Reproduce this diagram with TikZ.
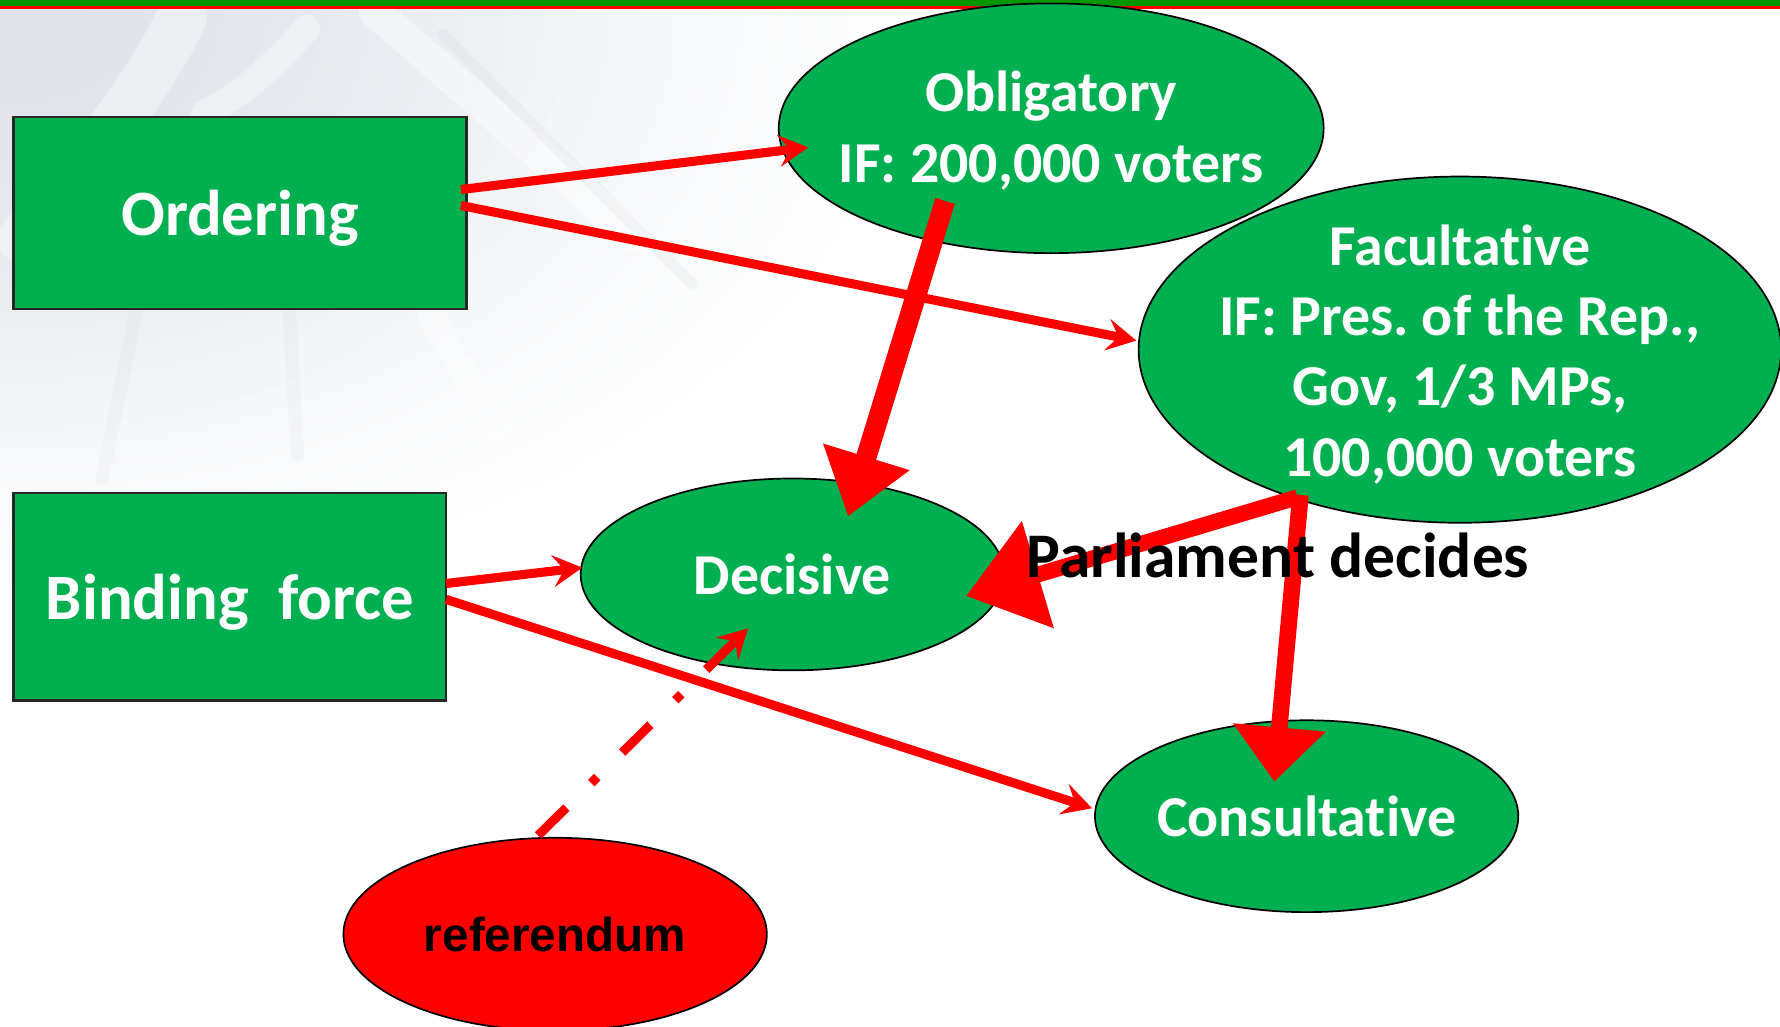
\documentclass[tikz,border=0pt]{standalone}
\usepackage{fontspec}
\setmainfont{Carlito}[Ligatures={NoCommon}]
\newfontfamily\arialfont{Liberation Sans}
\usetikzlibrary{arrows.meta,shapes.geometric,calc,fadings}
\definecolor{boxgreen}{RGB}{0,176,80}
\definecolor{bargreen}{RGB}{0,150,0}
\definecolor{pptred}{RGB}{255,0,0}
\definecolor{bggray}{RGB}{224,228,234}
\tikzfading[name=bgfade, inner color=transparent!0, outer color=transparent!100]
\frenchspacing
\begin{document}
\begin{tikzpicture}[x=0.5pt,y=-0.5pt,
  box/.style={draw=black!85, line width=1pt, fill=boxgreen, rectangle, inner sep=0pt},
  oval/.style={draw=black, line width=0.75pt, fill=boxgreen, ellipse, inner sep=0pt},
  redoval/.style={draw=black, line width=0.75pt, fill=pptred, ellipse, inner sep=0pt},
  boxtext/.style={text=white, font=\fontsize{28.5}{34}\selectfont\bfseries, align=center, inner sep=0pt},
  ovaltext/.style={text=white, font=\fontsize{25.5}{31}\selectfont\bfseries, align=center, inner sep=0pt},
  thinarrow/.style={draw=pptred, line width=4pt, -{Stealth[length=13pt,width=14pt,inset=5pt]}},
  dashdotarrow/.style={draw=pptred, line width=4pt, dash pattern=on 17.5pt off 15.4pt on 3.7pt off 15.4pt, -{Stealth[length=13pt,width=14pt,inset=5pt]}},
  streak/.style={line cap=round}
]
\useasboundingbox (0,0) rectangle (1568,904);
\clip (0,0) rectangle (1568,904);
% background
\fill[white] (0,0) rectangle (1568,904);
\fill[bggray, path fading=bgfade] (0,8) ellipse [x radius=800, y radius=520];
\fill[bggray, path fading=bgfade, opacity=0.7] (0,8) ellipse [x radius=500, y radius=380];
\draw[streak, white, line width=14pt, opacity=0.4] (330,10) -- (560,210);
\draw[streak, bggray!60!gray, line width=5pt, opacity=0.10] (390,30) -- (610,250);
\draw[streak, white, line width=22pt, opacity=0.35] (160,15) .. controls (130,80) and (70,150) .. (20,210);
\draw[streak, white, line width=12pt, opacity=0.35] (270,25) .. controls (240,60) and (210,85) .. (180,100);
\draw[streak, bggray!60!gray, line width=6pt, opacity=0.08] (120,275) -- (90,420);
\draw[streak, bggray!60!gray, line width=6pt, opacity=0.08] (255,275) -- (262,400);
\draw[streak, white, line width=12pt, opacity=0.35] (380,280) -- (440,380);
% top bar
\fill[bargreen] (0,0) rectangle (1568,5.5);
\fill[pptred] (0,5.5) rectangle (1568,7.5);
% nodes
\node[box, minimum width=199.5pt, minimum height=84.5pt] (ord) at (211.5,187.5) {};
\node[boxtext] (ordT) at ($(ord.center)+(0,5)$) {Ordering};
\node[box, minimum width=190.5pt, minimum height=91.5pt] (bind) at (202.5,525.5) {};
\node[boxtext] (bindT) at ($(bind.center)+(0,5)$) {Binding~~force};
\node[oval, minimum width=240pt, minimum height=110pt] (obl) at (926,113) {};
\node[ovaltext] (oblT) at ($(obl.center)+(0,2)$) {Obligatory\\IF: 200,000 voters};
\node[oval, minimum width=283pt, minimum height=152.5pt] (fac) at (1286,308) {};
\node[ovaltext] (facT) at ($(fac.center)+(0,4)$) {Facultative\\IF: Pres. of the Rep.,\\Gov, 1/3 MPs,\\100,000 voters};
\node[oval, minimum width=186.5pt, minimum height=84.5pt] (dec) at (698,506) {};
\node[ovaltext] (decT) at (dec.center) {Decisive};
\node[oval, minimum width=186.5pt, minimum height=84.5pt] (con) at (1151,719) {};
\node[ovaltext] (conT) at (con.center) {Consultative};
\node[redoval, minimum width=186.5pt, minimum height=85pt] (ref) at (489,823) {};
\node[font=\arialfont\fontsize{21}{25}\selectfont\bfseries, text=black, inner sep=0pt] (refT) at (ref.center) {referendum};
% thin arrows
\draw[thinarrow] ($(ord.center)+(194.5,-20.5)$) -- ($(obl.center)+(-214,16.8)$);
\draw[thinarrow] ($(ord.center)+(194.5,-6.5)$) -- ($(fac.center)+(-285,-8)$);
\draw[thinarrow] ($(bind.center)+(190.5,-11.5)$) -- ($(dec.center)+(-185,-6)$);
\draw[thinarrow] ($(bind.center)+(190.5,2.5)$) -- ($(con.center)+(-189,-7)$);
% thick arrows
\draw[draw=pptred, line width=9pt, -{Triangle[length=27.5pt,width=38pt]}] ($(obl.center)+(-93.5,64)$) -- ($(dec.center)+(49,-51)$);
\draw[draw=pptred, line width=7pt, -{Triangle[length=33pt,width=47.5pt]}] ($(fac.center)+(-143,130)$) -- ($(dec.center)+(153,19)$);
\draw[draw=pptred, line width=7.3pt, -{Triangle[length=24pt,width=39.5pt]}] ($(fac.center)+(-140.4,128)$) -- ($(con.center)+(-28.4,-30.4)$);
% dash-dot arrow
\draw[dashdotarrow] ($(ref.center)+(-15,-87)$) -- ($(dec.center)+(-39,47.5)$);
% label
\node[font=\fontsize{28}{33}\selectfont\bfseries, text=black, anchor=base west, inner sep=0pt] (pd) at (904,509) {Parliament decides};
\end{tikzpicture}
\end{document}
